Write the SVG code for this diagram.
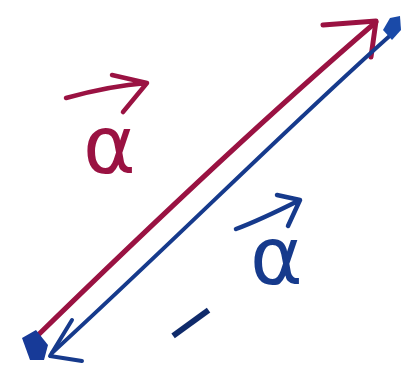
<svg xmlns="http://www.w3.org/2000/svg" width="405" height="372" viewBox="0 0 405 372">
<style>
.red{stroke:#9a1242;fill:none;stroke-linecap:round;stroke-linejoin:round}
.blue{stroke:#163a8c;fill:none;stroke-linecap:round;stroke-linejoin:round}
.lbl{font-family:"DejaVu Sans",sans-serif;font-size:80px}
</style>
<rect width="405" height="372" fill="#ffffff"/>
<g id="connectors">
  <g id="vec-a">
    <path class="red" stroke-width="5" d="M33,340 C120,255 250,130 376,22"/>
    <path class="red" stroke-width="5" d="M323,25 L376,21 L371,57"/>
  </g>
  <g id="vec-neg-a">
    <path class="blue" stroke-width="4" d="M393,33 C300,115 170,245 52,353"/>
    <path d="M383,30 L390,18 L400,16 L401,30 L392,40 Z" fill="#1a4aa8"/>
    <path class="blue" stroke="#1f6ed0" stroke-width="4" d="M72,320 L50,356 L82,361"/>
    <path d="M22,338 L36,330 L48,345 L44,360 L30,360 Z" fill="#173a98"/>
  </g>
</g>
<g id="label-a">
  <path class="red" stroke-width="4.5" d="M66,98 C95,90 120,85 147,83 M112,75 L147,83 L123,112"/>
  <text class="lbl" x="83" y="173" fill="#9a1242">α</text>
</g>
<g id="label-neg-a">
  <path class="blue" stroke-width="4.5" d="M236,229 C255,222 280,210 300,200 M277,195 L300,200 L288,226"/>
  <text class="lbl" x="250" y="284" fill="#163a8c">α</text>
  <text class="lbl" style="font-size:70px" x="180" y="358" rotate="-36" fill="#0f2a6a">−</text>
</g>
</svg>
